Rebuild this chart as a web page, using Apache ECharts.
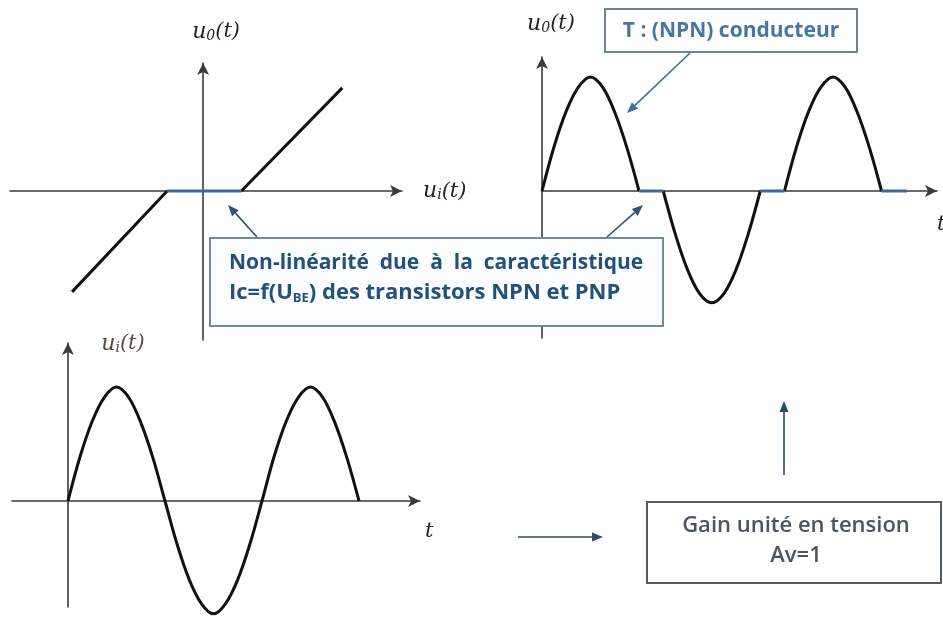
<!DOCTYPE html>
<html>
<head>
<meta charset="utf-8">
<script src="https://cdn.jsdelivr.net/npm/echarts@6/dist/echarts.min.js"></script>
<style>
  html, body { margin: 0; padding: 0; background: #fff; }
  #main { width: 943px; height: 617px; }
</style>
</head>
<body>
<div id="main"></div>
<script>
// caractéristique de transfert u0 = f(ui) (V)
var transferUi = [-2.26, -0.62, null, 0.66, 2.4];
var transferU0 = [-1.74, 0, null, 0, 1.78];
var deadUi = [-0.62, 0.66];
var deadU0 = [0, 0];

// tension d'entrée ui(t), t en ms
var inputT = [0, 1.25, 2.5, 3.75, 5, 6.25, 7.5, 8.75, 10,
              11.25, 12.5, 13.75, 15, 16.25, 17.5, 18.75, 20,
              21.25, 22.5, 23.75, 25, 26.25, 27.5, 28.75, 30];
var inputV = [0, 3.9, 7, 9.1, 10, 9.1, 6.9, 3.8, 0,
              -3.8, -6.9, -9, -9.9, -9, -6.9, -3.8, 0,
              3.9, 7, 9.1, 10, 9.1, 6.9, 3.8, 0];

// tension de sortie u0(t) : distorsion de croisement
var outputT = [0, 1.25, 2.5, 3.75, 5, 6.25, 7.5, 8.75, 10, null,
               12.5, 13.75, 15, 16.25, 17.5, 18.75, 20, 21.25, 22.5, null,
               25, 26.25, 27.5, 28.75, 30, 31.25, 32.5, 33.75, 35];
var outputV = [0, 3.9, 7, 9.1, 10, 9.1, 6.9, 3.8, 0, null,
               0, -3.8, -6.9, -9, -9.8, -9, -6.9, -3.8, 0, null,
               0, 3.9, 7, 9.1, 10, 9.1, 6.9, 3.8, 0];
var crossT = [10, 12.5, null, 22.5, 25, null, 35, 37.6];
var crossV = [0, 0, null, 0, 0, null, 0, 0];

function pairs(xs, ys) {
    return xs.map(function (x, i) { return [x, ys[i]]; });
}

var mathFont = 'DejaVu Serif';
var curveColor = '#111';
var deadColor = '#3b6a99';
var axisColor = '#3a3a3a';

// nom d'axe "u0(t)" / "ui(t)" en italique avec indice
function axisName(sub) {
    return '{u|u}{s|' + sub + '}{p|(t)}';
}
function nameStyle(color, padding) {
    return {
        color: color,
        padding: padding,
        rich: {
            u: { fontFamily: mathFont, fontStyle: 'italic', fontSize: 22, color: color },
            s: { fontFamily: mathFont, fontStyle: 'italic', fontSize: 14, color: color, verticalAlign: 'bottom', lineHeight: 16 },
            p: { fontFamily: mathFont, fontStyle: 'italic', fontSize: 21, color: color }
        }
    };
}

function baseAxis(opts) {
    var ax = {
        type: 'value',
        axisLine: {
            onZero: true,
            symbol: ['none', 'arrow'],
            symbolSize: [9, 12],
            lineStyle: { color: axisColor, width: 1.6 }
        },
        axisTick: { show: false },
        axisLabel: { show: false },
        splitLine: { show: false }
    };
    for (var k in opts) ax[k] = opts[k];
    return ax;
}

function arrow(x1, y1, x2, y2, color, w) {
    var a = Math.atan2(y2 - y1, x2 - x1);
    var L = 11, W = 4.5;
    var bx = x2 - L * Math.cos(a), by = y2 - L * Math.sin(a);
    return [
        { type: 'line', z: 100, shape: { x1: x1, y1: y1, x2: bx, y2: by },
          style: { stroke: color, lineWidth: w } },
        { type: 'polygon', z: 100,
          shape: { points: [[x2, y2],
                            [bx - W * Math.sin(a), by + W * Math.cos(a)],
                            [bx + W * Math.sin(a), by - W * Math.cos(a)]] },
          style: { fill: color } }
    ];
}

var chart = echarts.init(document.getElementById('main'));

var graphics = [];
// encadrés
graphics.push({
    type: 'rect', z: 100, shape: { x: 605, y: 9, width: 252, height: 43 },
    style: { fill: '#fff', stroke: '#6a84a0', lineWidth: 2 }
});
graphics.push({
    type: 'text', z: 101, x: 731, y: 31,
    style: { text: 'T : (NPN) conducteur', fill: '#4676a6', font: 'bold 21px "Open Sans"',
             textAlign: 'center', textVerticalAlign: 'middle' }
});
graphics.push({
    type: 'rect', z: 100, shape: { x: 210, y: 238, width: 453, height: 88 },
    style: { fill: '#fcfdff', stroke: '#6f8aa6', lineWidth: 2 }
});
graphics.push({
    type: 'text', z: 101, x: 229, y: 263,
    style: { text: 'Non-linéarité  due  à  la  caractéristique', fill: '#24507c',
             font: 'bold 21px "Open Sans"', textAlign: 'left', textVerticalAlign: 'middle' }
});
graphics.push({
    type: 'text', z: 101, x: 229, y: 293,
    style: {
        text: '{b|Ic=f(U}{sc|BE}{b|) des transistors NPN et PNP}',
        textAlign: 'left', textVerticalAlign: 'middle',
        rich: {
            b: { fill: '#24507c', font: 'bold 22px "Open Sans"', lineHeight: 24 },
            sc: { fill: '#24507c', font: 'bold 13px "Open Sans"', verticalAlign: 'bottom', lineHeight: 20 }
        }
    }
});
graphics.push({
    type: 'rect', z: 100, shape: { x: 647, y: 502, width: 294, height: 81 },
    style: { fill: '#fff', stroke: '#525c66', lineWidth: 2 }
});
graphics.push({
    type: 'text', z: 101, x: 796, y: 541,
    style: { text: 'Gain unité en tension\nAv=1', fill: '#4a5561', font: '600 22px "Open Sans"',
             lineHeight: 30, textAlign: 'center', textVerticalAlign: 'middle' }
});
// flèches
graphics = graphics
    .concat(arrow(690, 53, 627, 113, '#3f6d9b', 1.6))
    .concat(arrow(257, 237, 228, 205, '#2f5478', 1.6))
    .concat(arrow(607, 237, 643, 205, '#2f5478', 1.6))
    .concat(arrow(518, 537, 603, 537, '#2f4b6b', 1.6))
    .concat(arrow(784, 475, 784, 401, '#2f4b6b', 1.6));

chart.setOption({
    animation: false,
    backgroundColor: '#fff',
    grid: [
        { left: 10, top: 63, width: 392, height: 277, outerBoundsMode: 'none' },
        { left: 542, top: 57, width: 395, height: 281, outerBoundsMode: 'none' },
        { left: 12, top: 343, width: 408, height: 264, outerBoundsMode: 'none' }
    ],
    xAxis: [
        baseAxis({ gridIndex: 0, min: -3.33, max: 3.43, name: axisName('i'),
                   nameLocation: 'end', nameGap: 21, nameTextStyle: nameStyle('#222', [0, 0, 0, 0]) }),
        baseAxis({ gridIndex: 1, min: 0, max: 40.72, name: '{p|t}',
                   nameLocation: 'end', nameGap: 0, nameTextStyle: nameStyle('#222', [68, 0, 0, 0]) }),
        baseAxis({ gridIndex: 2, min: -5.77, max: 36.29, name: '{p|t}',
                   nameLocation: 'end', nameGap: 5, nameTextStyle: nameStyle('#222', [62, 0, 0, 0]) })
    ],
    yAxis: [
        baseAxis({ gridIndex: 0, min: -2.57, max: 2.21, name: axisName('0'),
                   nameLocation: 'end', nameGap: 20, nameTextStyle: nameStyle('#222', [0, 0, 0, 26]) }),
        baseAxis({ gridIndex: 1, min: -12.89, max: 11.75, name: axisName('0'),
                   nameLocation: 'end', nameGap: 22, nameTextStyle: nameStyle('#222', [0, 0, 0, 18]) }),
        baseAxis({ gridIndex: 2, min: -9.3, max: 13.86, name: axisName('i'),
                   nameLocation: 'end', nameGap: -12, nameTextStyle: nameStyle('#5a4a42', [0, 0, 0, 110]) })
    ],
    series: [
        { type: 'line', xAxisIndex: 0, yAxisIndex: 0, data: pairs(transferUi, transferU0),
          showSymbol: false, lineStyle: { color: curveColor, width: 3 }, z: 5 },
        { type: 'line', xAxisIndex: 0, yAxisIndex: 0, data: pairs(deadUi, deadU0),
          showSymbol: false, lineStyle: { color: deadColor, width: 3 }, z: 5 },
        { type: 'line', xAxisIndex: 1, yAxisIndex: 1, data: pairs(outputT, outputV),
          smooth: 0.35, showSymbol: false, clip: false,
          lineStyle: { color: curveColor, width: 3 }, z: 5 },
        { type: 'line', xAxisIndex: 1, yAxisIndex: 1, data: pairs(crossT, crossV),
          showSymbol: false, lineStyle: { color: deadColor, width: 3 }, z: 5 },
        { type: 'line', xAxisIndex: 2, yAxisIndex: 2, data: pairs(inputT, inputV),
          smooth: 0.35, showSymbol: false, clip: false,
          lineStyle: { color: curveColor, width: 3 }, z: 5 }
    ],
    graphic: graphics
});

window.addEventListener('resize', function () {
    chart.resize();
});
</script>
</body>
</html>
